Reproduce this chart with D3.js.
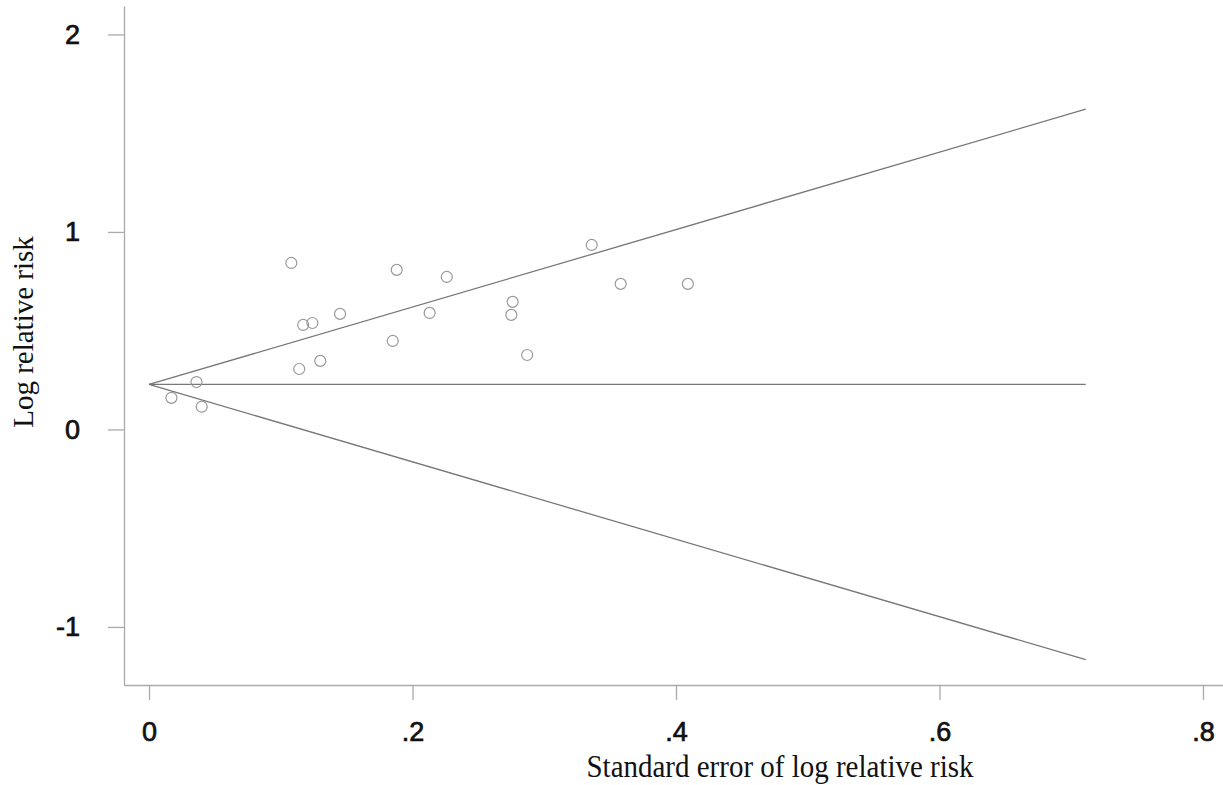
<!DOCTYPE html>
<html>
<head>
<meta charset="utf-8">
<script src="https://cdn.jsdelivr.net/npm/d3@7"></script>
<style>
  body { margin: 0; background: #fff; }
  svg { display: block; }
</style>
</head>
<body>
<svg width="1223" height="785"></svg>
<script>
// study estimates: standard error and log relative risk
var se = [0.017, 0.036, 0.040, 0.108, 0.114, 0.117, 0.124, 0.130, 0.145, 0.185, 0.188,
          0.213, 0.226, 0.275, 0.276, 0.287, 0.336, 0.358, 0.409];
var logRR = [0.16, 0.24, 0.115, 0.843, 0.306, 0.529, 0.539, 0.347, 0.585, 0.448, 0.808,
             0.590, 0.772, 0.580, 0.646, 0.377, 0.934, 0.737, 0.737];
var pooled = 0.228;
var seMax = 0.711;
var xTicks = [0, 0.2, 0.4, 0.6, 0.8];
var yTicks = [-1, 0, 1, 2];

var svg = d3.select('svg');

var scaleX = d3.scaleLinear().domain([-0.019, 0.8152]).range([124, 1223]);
var scaleY = d3.scaleLinear().domain([-1.294, 2.144]).range([685, 6]);

var fmt = function(d){
    return d === 0 ? '0' : String(d).replace('0.', '.');
};

var xAxis = svg.append('g')
    .attr('transform', 'translate(0,685)')
    .call(d3.axisBottom(scaleX).tickValues(xTicks).tickFormat(fmt)
        .tickSizeInner(15).tickSizeOuter(0).tickPadding(22));

var yAxis = svg.append('g')
    .attr('transform', 'translate(124,0)')
    .call(d3.axisLeft(scaleY).tickValues(yTicks).tickFormat(function(d){ return String(d) })
        .tickSizeInner(16).tickSizeOuter(0).tickPadding(28));

[xAxis, yAxis].forEach(function(a){
    a.selectAll('path, line').attr('stroke', '#aaa').attr('stroke-width', 1.3);
    a.selectAll('text')
        .attr('font-family', 'Liberation Sans, Arial, sans-serif')
        .attr('font-size', 27)
        .attr('fill', '#111')
        .attr('stroke', '#111')
        .attr('stroke-width', 0.7);
});

// funnel (pseudo 95% confidence limits)
var funnel = [
    [[0, pooled], [seMax, pooled + 1.96 * seMax]],
    [[0, pooled], [seMax, pooled]],
    [[0, pooled], [seMax, pooled - 1.96 * seMax]]
];
var line = d3.line()
    .x(function(d){ return scaleX(d[0]) })
    .y(function(d){ return scaleY(d[1]) });

svg.selectAll('path.funnel')
    .data(funnel)
    .enter()
    .append('path')
    .attr('class', 'funnel')
    .attr('d', line)
    .attr('fill', 'none')
    .attr('stroke', '#777')
    .attr('stroke-width', 1.3);

svg.selectAll('circle')
    .data(se)
    .enter()
    .append('circle')
    .attr('cx', function(d){ return scaleX(d) })
    .attr('cy', function(d, i){ return scaleY(logRR[i]) })
    .attr('r', 5.5)
    .attr('fill', 'none')
    .attr('stroke', '#999')
    .attr('stroke-width', 1.2);

svg.append('text')
    .attr('transform', 'translate(780,777) scale(1,1.12)')
    .attr('text-anchor', 'middle')
    .attr('font-family', 'Liberation Serif, Times New Roman, serif')
    .attr('font-size', 29)
    .attr('fill', '#111')
    .text('Standard error of log relative risk');

svg.append('text')
    .attr('transform', 'translate(33,332) rotate(270)')
    .attr('text-anchor', 'middle')
    .attr('font-family', 'Liberation Serif, Times New Roman, serif')
    .attr('font-size', 29)
    .attr('fill', '#111')
    .text('Log relative risk');
</script>
</body>
</html>
